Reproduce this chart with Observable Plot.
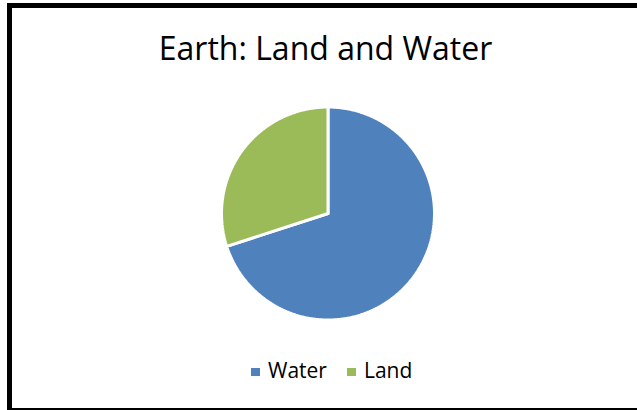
<!DOCTYPE html>
<html>
<head>
<meta charset="utf-8">
<script src="https://cdn.jsdelivr.net/npm/d3@7"></script>
<script src="https://cdn.jsdelivr.net/npm/@observablehq/plot@0.6"></script>
<style>
  html, body { margin: 0; padding: 0; background: #fff; overflow: hidden; width: 637px; height: 410px; }
  #frame { position: absolute; left: 7px; top: 3px; width: 700px; height: 400px; border: 5px solid #000; box-sizing: content-box; }
  #title { position: absolute; left: 7px; top: 32px; width: 637px; text-align: center; font-family: "Open Sans", sans-serif; font-size: 32px; line-height: 32px; color: #000; white-space: nowrap; }
  #chart { position: absolute; left: 0; top: 93px; }
  #legend { position: absolute; left: 251px; top: 360px; font-family: "Open Sans", sans-serif; font-size: 21px; line-height: 21px; color: #000; white-space: nowrap; display: flex; align-items: center; }
  .item { display: flex; align-items: center; margin-right: 20px; }
  .sw { width: 9px; height: 8px; margin-right: 8px; margin-top: 2px; }
</style>
</head>
<body>
<div id="frame"></div>
<div id="title"></div>
<div id="chart"></div>
<div id="legend"></div>
<script>
const title = "Earth: Land and Water";
const categories = ["Water", "Land"];
const values = [70, 30];
const colors = ["#4F81BD", "#9BBB59"];

// Build slice polygons from pie angles (clockwise from 12 o'clock)
const arcs = d3.pie().sort(null).startAngle(0).endAngle(2 * Math.PI)(values);
const rows = [];
arcs.forEach((a, i) => {
  const name = categories[i];
  rows.push({name, x: 0, y: 0});
  const n = Math.max(2, Math.ceil((a.endAngle - a.startAngle) / (Math.PI / 360)));
  for (let k = 0; k <= n; k++) {
    const t = a.startAngle + (a.endAngle - a.startAngle) * k / n;
    rows.push({name, x: Math.sin(t), y: Math.cos(t)});
  }
  rows.push({name, x: 0, y: 0});
});

const W = 637, H = 240;
const cx = 327.5, cy = 120, r = 106.5;
const chart = Plot.plot({
  width: W,
  height: H,
  marginLeft: cx - r,
  marginRight: W - (cx + r),
  marginTop: cy - r,
  marginBottom: H - (cy + r),
  x: {domain: [-1, 1], axis: null},
  y: {domain: [-1, 1], axis: null},
  color: {domain: categories, range: colors},
  marks: [
    Plot.line(rows, {x: "x", y: "y", z: "name", fill: "name", stroke: "white", strokeWidth: 3, strokeLinejoin: "miter", curve: "linear"})
  ]
});
document.getElementById("chart").appendChild(chart);
document.getElementById("title").textContent = title;

const colorScale = chart.scale("color");
const legend = document.getElementById("legend");
categories.forEach((c) => {
  const item = document.createElement("div");
  item.className = "item";
  const sw = document.createElement("span");
  sw.className = "sw";
  sw.style.background = colorScale.apply(c);
  const lab = document.createElement("span");
  lab.textContent = c;
  item.appendChild(sw);
  item.appendChild(lab);
  legend.appendChild(item);
});
</script>
</body>
</html>
